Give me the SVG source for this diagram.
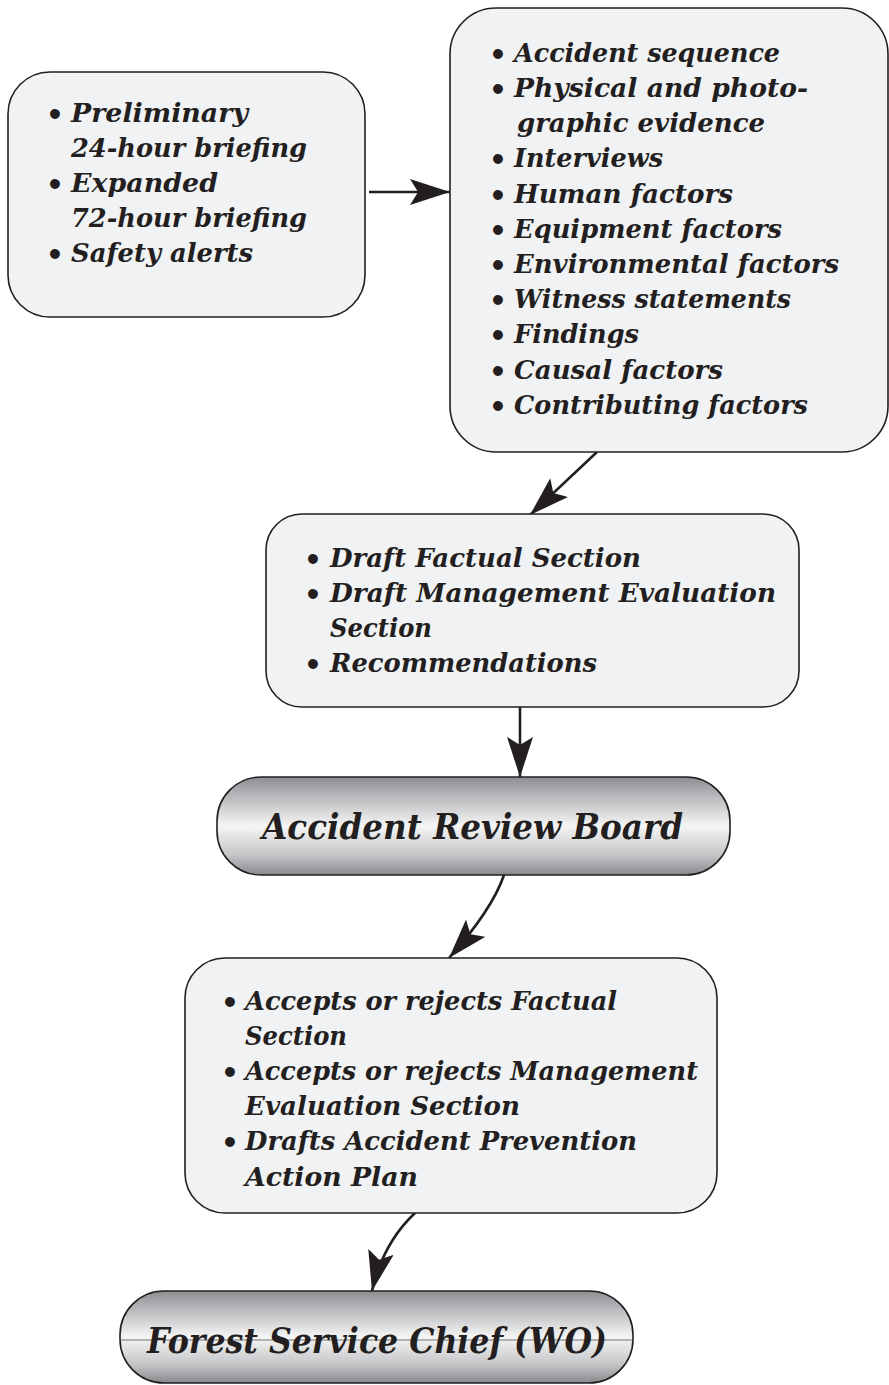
<svg xmlns="http://www.w3.org/2000/svg" width="889" height="1385" viewBox="0 0 889 1385">
<style>
.box{fill:#f1f2f4;stroke:#231f20;stroke-width:1.6}
.pill{fill:url(#metal);stroke:#231f20;stroke-width:1.6}
.t{font-family:"DejaVu Serif","Liberation Serif",serif;font-style:italic;font-weight:bold;font-size:26px;fill:#231f20}
.b{font-family:"DejaVu Serif","Liberation Serif",serif;font-weight:bold;font-size:28px;fill:#231f20}
.h{font-family:"DejaVu Serif","Liberation Serif",serif;font-style:italic;font-weight:bold;font-size:36px;fill:#231f20}
.c{fill:none;stroke:#231f20;stroke-width:2.6}
</style>
<defs>
<linearGradient id="metal" x1="0" y1="0" x2="0" y2="1">
<stop offset="0" stop-color="#8d8e91"/>
<stop offset="0.18" stop-color="#b4b5b8"/>
<stop offset="0.5" stop-color="#f5f5f5"/>
<stop offset="0.8" stop-color="#c4c5c7"/>
<stop offset="1" stop-color="#88898c"/>
</linearGradient>
<marker id="ah" viewBox="0 0 40 26" markerWidth="40" markerHeight="26" refX="40" refY="13" orient="auto" markerUnits="userSpaceOnUse">
<path d="M0,0 L40,13 L0,26 L8,13 Z" fill="#231f20"/>
</marker>
</defs>

<g id="connectors">
<line class="c" x1="369" y1="192" x2="450" y2="192" marker-end="url(#ah)"/>
<line class="c" x1="597" y1="452" x2="530" y2="515" marker-end="url(#ah)"/>
<line class="c" x1="520" y1="707" x2="520" y2="777" marker-end="url(#ah)"/>
<path class="c" d="M504,875 Q492,910 449,958" marker-end="url(#ah)"/>
<path class="c" d="M415,1213 Q383,1243 372,1291" marker-end="url(#ah)"/>
</g>

<g id="briefings">
<rect class="box" x="8" y="72" width="357" height="245" rx="42" ry="42"/>
<text class="b" x="46" y="124">•</text>
<text class="t" x="71" y="122" textLength="177" lengthAdjust="spacingAndGlyphs">Preliminary</text>
<text class="t" x="71" y="157" textLength="236" lengthAdjust="spacingAndGlyphs">24-hour briefing</text>
<text class="b" x="46" y="194">•</text>
<text class="t" x="71" y="192" textLength="147" lengthAdjust="spacingAndGlyphs">Expanded</text>
<text class="t" x="71" y="227" textLength="236" lengthAdjust="spacingAndGlyphs">72-hour briefing</text>
<text class="b" x="46" y="264">•</text>
<text class="t" x="71" y="262" textLength="182" lengthAdjust="spacingAndGlyphs">Safety alerts</text>
</g>

<g id="investigation">
<rect class="box" x="450" y="8" width="438" height="444" rx="46" ry="46"/>
<text class="b" x="489" y="64">•</text>
<text class="t" x="514" y="62" textLength="266" lengthAdjust="spacingAndGlyphs">Accident sequence</text>
<text class="b" x="489" y="99">•</text>
<text class="t" x="514" y="97" textLength="294" lengthAdjust="spacingAndGlyphs">Physical and photo-</text>
<text class="t" x="517" y="132" textLength="248" lengthAdjust="spacingAndGlyphs">graphic evidence</text>
<text class="b" x="489" y="169">•</text>
<text class="t" x="514" y="167" textLength="149" lengthAdjust="spacingAndGlyphs">Interviews</text>
<text class="b" x="489" y="205">•</text>
<text class="t" x="514" y="203" textLength="219" lengthAdjust="spacingAndGlyphs">Human factors</text>
<text class="b" x="489" y="240">•</text>
<text class="t" x="514" y="238" textLength="268" lengthAdjust="spacingAndGlyphs">Equipment factors</text>
<text class="b" x="489" y="275">•</text>
<text class="t" x="514" y="273" textLength="325" lengthAdjust="spacingAndGlyphs">Environmental factors</text>
<text class="b" x="489" y="310">•</text>
<text class="t" x="514" y="308" textLength="277" lengthAdjust="spacingAndGlyphs">Witness statements</text>
<text class="b" x="489" y="345">•</text>
<text class="t" x="514" y="343" textLength="125" lengthAdjust="spacingAndGlyphs">Findings</text>
<text class="b" x="489" y="381">•</text>
<text class="t" x="514" y="379" textLength="209" lengthAdjust="spacingAndGlyphs">Causal factors</text>
<text class="b" x="489" y="416">•</text>
<text class="t" x="514" y="414" textLength="294" lengthAdjust="spacingAndGlyphs">Contributing factors</text>
</g>

<g id="drafts">
<rect class="box" x="266" y="514" width="533" height="193" rx="36" ry="36"/>
<text class="b" x="304" y="569">•</text>
<text class="t" x="330" y="567" textLength="311" lengthAdjust="spacingAndGlyphs">Draft Factual Section</text>
<text class="b" x="304" y="604">•</text>
<text class="t" x="330" y="602" textLength="446" lengthAdjust="spacingAndGlyphs">Draft Management Evaluation</text>
<text class="t" x="330" y="637" textLength="102" lengthAdjust="spacingAndGlyphs">Section</text>
<text class="b" x="304" y="674">•</text>
<text class="t" x="330" y="672" textLength="267" lengthAdjust="spacingAndGlyphs">Recommendations</text>
</g>

<g id="review-board">
<rect class="pill" x="217" y="777" width="513" height="98" rx="44" ry="44"/>
<text class="h" x="262" y="839" textLength="421" lengthAdjust="spacingAndGlyphs">Accident Review Board</text>
</g>

<g id="board-actions">
<rect class="box" x="185" y="958" width="532" height="255" rx="40" ry="40"/>
<text class="b" x="221" y="1012">•</text>
<text class="t" x="245" y="1010" textLength="372" lengthAdjust="spacingAndGlyphs">Accepts or rejects Factual</text>
<text class="t" x="245" y="1045" textLength="102" lengthAdjust="spacingAndGlyphs">Section</text>
<text class="b" x="221" y="1082">•</text>
<text class="t" x="245" y="1080" textLength="453" lengthAdjust="spacingAndGlyphs">Accepts or rejects Management</text>
<text class="t" x="245" y="1115" textLength="275" lengthAdjust="spacingAndGlyphs">Evaluation Section</text>
<text class="b" x="221" y="1152">•</text>
<text class="t" x="245" y="1150" textLength="392" lengthAdjust="spacingAndGlyphs">Drafts Accident Prevention</text>
<text class="t" x="245" y="1186" textLength="173" lengthAdjust="spacingAndGlyphs">Action Plan</text>
</g>

<g id="chief">
<rect class="pill" x="120" y="1291" width="513" height="92" rx="44" ry="44"/>
<line x1="120" y1="1340" x2="633" y2="1340" stroke="#555" stroke-width="0.8"/>
<text class="h" x="147" y="1353" textLength="460" lengthAdjust="spacingAndGlyphs">Forest Service Chief (WO)</text>
</g>
</svg>
